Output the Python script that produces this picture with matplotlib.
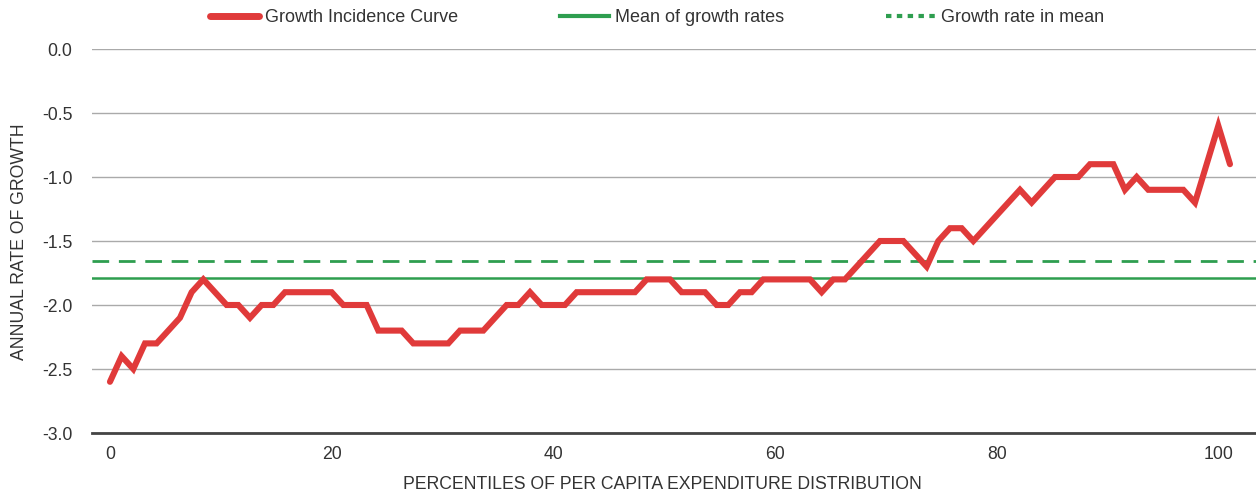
import matplotlib
matplotlib.use("Agg")
import matplotlib.pyplot as plt
import numpy as np
from matplotlib.lines import Line2D

plt.rcParams['font.family'] = ['Liberation Sans', 'DejaVu Sans']

# growth incidence curve, one value per percentile group
gic = [-2.6, -2.4, -2.5, -2.3, -2.3, -2.2, -2.1, -1.9, -1.8, -1.9,
       -2.0, -2.0, -2.1, -2.0, -2.0, -1.9, -1.9, -1.9, -1.9, -1.9,
       -2.0, -2.0, -2.0, -2.2, -2.2, -2.2, -2.3, -2.3, -2.3, -2.3,
       -2.2, -2.2, -2.2, -2.1, -2.0, -2.0, -1.9, -2.0, -2.0, -2.0,
       -1.9, -1.9, -1.9, -1.9, -1.9, -1.9, -1.8, -1.8, -1.8, -1.9,
       -1.9, -1.9, -2.0, -2.0, -1.9, -1.9, -1.8, -1.8, -1.8, -1.8,
       -1.8, -1.9, -1.8, -1.8, -1.7, -1.6, -1.5, -1.5, -1.5, -1.6,
       -1.7, -1.5, -1.4, -1.4, -1.5, -1.4, -1.3, -1.2, -1.1, -1.2,
       -1.1, -1.0, -1.0, -1.0, -0.9, -0.9, -0.9, -1.1, -1.0, -1.1,
       -1.1, -1.1, -1.1, -1.2, -0.9, -0.6, -0.9]
mean_of_growth = -1.79
growth_in_mean = -1.66

x_tick_labels = ['0', '20', '40', '60', '80', '100']
y_ticks = [0.0, -0.5, -1.0, -1.5, -2.0, -2.5, -3.0]

red = '#e03a3a'
green = '#2e9e4f'
txt = '#333333'
fs = 12.7

fig = plt.figure(figsize=(12.56, 4.94), dpi=100)
ax = fig.add_axes([92 / 1256, 61 / 494, 1 - 92 / 1256, 384 / 494])

x = np.arange(len(gic))
ax.axhline(mean_of_growth, color=green, lw=1.8, zorder=3)
ax.axhline(growth_in_mean, color=green, lw=2.0, ls=(0, (6, 3.5)), zorder=3)
ax.plot(x, gic, color=red, lw=4.4, solid_capstyle='round',
        solid_joinstyle='miter', zorder=4)

ax.set_ylim(-3.0, 0.0)
ax.set_xlim(-1.54, 98.23)
ax.set_yticks(y_ticks)
ax.set_yticklabels([f'{v:.1f}' for v in y_ticks])
ax.set_xticks(np.arange(0, len(gic), 19))
ax.set_xticklabels(x_tick_labels)
ax.grid(axis='y', color='#aaaaaa', lw=1.0, zorder=0)
ax.tick_params(length=0, labelsize=fs, colors=txt)
ax.tick_params(axis='y', pad=14)
ax.tick_params(axis='x', pad=9)
for s in ['top', 'right', 'left']:
    ax.spines[s].set_visible(False)
ax.spines['bottom'].set_color('#444444')
ax.spines['bottom'].set_linewidth(2.0)
ax.spines['bottom'].set_zorder(5)

fig.text(662 / 1256, 1 - 484 / 494,
         'PERCENTILES OF PER CAPITA EXPENDITURE DISTRIBUTION',
         fontsize=fs, color=txt, ha='center', va='center')
fig.text(20 / 1256, 1 - 242 / 494, 'ANNUAL RATE OF GROWTH', rotation=90,
         fontsize=fs, color=txt, ha='center', va='center')

handles = [
    Line2D([], [], color=red, lw=5, solid_capstyle='round'),
    Line2D([], [], color=green, lw=3),
    Line2D([], [], color=green, lw=3, ls=(0, (1.3, 1.3))),
]
labels = ['Growth Incidence Curve', 'Mean of growth rates', 'Growth rate in mean']
fig.legend(handles, labels, loc='center', bbox_to_anchor=(657 / 1256, 1 - 18 / 494),
           ncol=3, frameon=False, fontsize=13, labelcolor=txt,
           handlelength=2.7, handletextpad=0.33, columnspacing=5.65)

fig.savefig('out.png', dpi=100)
